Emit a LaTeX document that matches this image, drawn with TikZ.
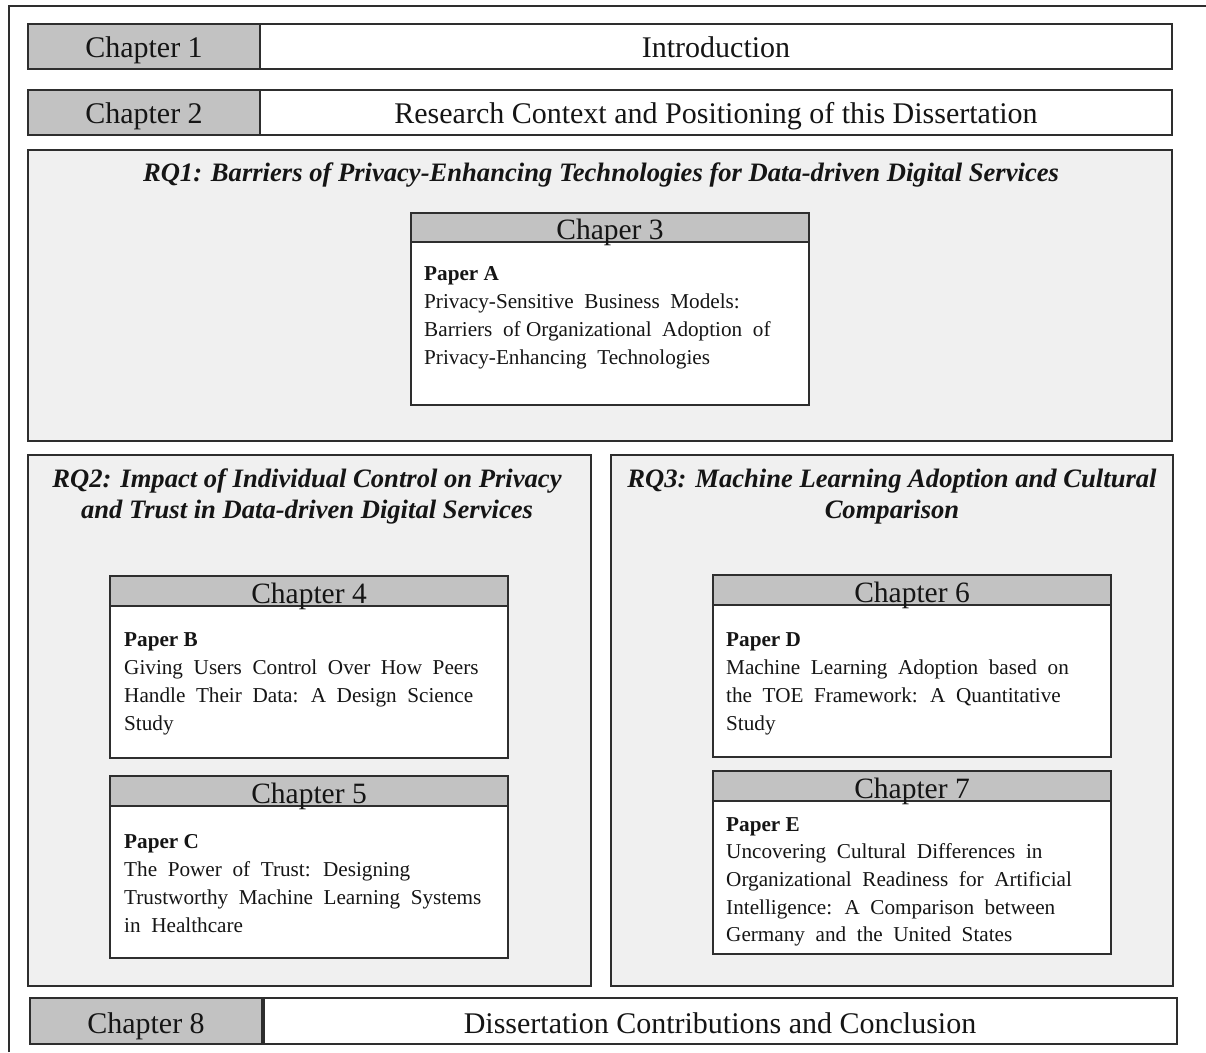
\documentclass[tikz,border=0pt]{standalone}
\usepackage{fontspec}
\setmainfont{Liberation Serif}
\definecolor{linec}{HTML}{2E2E2E}
\definecolor{headc}{HTML}{C2C2C2}
\definecolor{panelc}{HTML}{F0F0F0}
\definecolor{txtc}{HTML}{151515}
\tikzset{
  boxbase/.style={draw=linec, line width=2pt, inner sep=0pt, outer sep=0pt, anchor=north west},
  graybox/.style={boxbase, fill=headc},
  whitebox/.style={boxbase, fill=white},
  panelbox/.style={boxbase, fill=panelc},
  rowtxt/.style={text=txtc, inner sep=0pt, anchor=base, font=\fontsize{30}{36}\selectfont},
  headtxt/.style={text=txtc, inner sep=0pt, anchor=base, font=\fontsize{29.5}{34}\selectfont},
  % multi-line texts are placed by the baseline of their last line
  rqtxt/.style={text=txtc, inner sep=0pt, anchor=base, align=center,
    font=\fontsize{26.6}{31}\selectfont\bfseries\itshape},
  papertxt/.style={text=txtc, inner sep=0pt, anchor=base west, align=left,
    font=\fontsize{21.2}{27.7}\selectfont},
}
\begin{document}
\begin{tikzpicture}[x=1pt,y=-1pt]
\useasboundingbox (0,0) rectangle (1206,1052);

% outer frame (open towards the right and bottom edges)
\coordinate (fbl) at (8.5,1052);
\coordinate (ftl) at (8.5,5.5);
\coordinate (ftr) at (1206,5.5);
\draw[draw=linec, line width=2pt] (fbl) -- (ftl) -- (ftr);

% Chapter 1 and 2 rows
\node[graybox, minimum width=232, minimum height=45] (c1l) at (28,24) {};
\node[whitebox, minimum width=912, minimum height=45] (c1r) at (260,24) {};
\node[rowtxt] (c1lt) at (144,57) {Chapter 1};
\node[rowtxt] (c1rt) at (716,57) {Introduction};

\node[graybox, minimum width=232, minimum height=45] (c2l) at (28,90) {};
\node[whitebox, minimum width=912, minimum height=45] (c2r) at (260,90) {};
\node[rowtxt] (c2lt) at (144,123.5) {Chapter 2};
\node[rowtxt] (c2rt) at (716,123.5) {Research Context and Positioning of this Dissertation};

% RQ1 panel
\node[panelbox, minimum width=1144, minimum height=291] (rq1) at (28,150) {};
\node[rqtxt] (rq1t) at (601,181) {RQ1: Barriers of Privacy-Enhancing Technologies for Data-driven Digital Services};

\node[whitebox, minimum width=398, minimum height=192] (p3) at (411,213) {};
\node[graybox, minimum width=398, minimum height=29] (h3) at (411,213) {};
\node[headtxt] (h3t) at (610,239.5) {Chaper 3};
\node[papertxt] (pA) at (424,364) {\textbf{Paper A}\\
Privacy-Sensitive \ Business \ Models:\\
Barriers \ of Organizational \ Adoption \ of\\
Privacy-Enhancing \ Technologies};

% RQ2 panel
\node[panelbox, minimum width=563, minimum height=531] (rq2) at (28,455) {};
\node[rqtxt] (rq2t) at (307,518) {RQ2: Impact of Individual Control on Privacy\\and Trust in Data-driven Digital Services};

\node[whitebox, minimum width=398, minimum height=182] (p4) at (110,576) {};
\node[graybox, minimum width=398, minimum height=30] (h4) at (110,576) {};
\node[headtxt] (h4t) at (309,603) {Chapter 4};
\node[papertxt] (pB) at (124,730) {\textbf{Paper B}\\
Giving \ Users \ Control \ Over \ How \ Peers\\
Handle \ Their \ Data: \ A \ Design \ Science\\
Study};

\node[whitebox, minimum width=398, minimum height=182] (p5) at (110,776) {};
\node[graybox, minimum width=398, minimum height=30] (h5) at (110,776) {};
\node[headtxt] (h5t) at (309,803) {Chapter 5};
\node[papertxt] (pC) at (124,932) {\textbf{Paper C}\\
The \ Power \ of \ Trust: \ Designing\\
Trustworthy \ Machine \ Learning \ Systems\\
in \ Healthcare};

% RQ3 panel
\node[panelbox, minimum width=562, minimum height=531] (rq3) at (611,455) {};
\node[rqtxt] (rq3t) at (892,518) {RQ3: Machine Learning Adoption and Cultural\\Comparison};

\node[whitebox, minimum width=398, minimum height=182] (p6) at (713,575) {};
\node[graybox, minimum width=398, minimum height=30] (h6) at (713,575) {};
\node[headtxt] (h6t) at (912,602) {Chapter 6};
\node[papertxt] (pD) at (726,730) {\textbf{Paper D}\\
Machine \ Learning \ Adoption \ based \ on\\
the \ TOE \ Framework: \ A \ Quantitative\\
Study};

\node[whitebox, minimum width=398, minimum height=183] (p7) at (713,771) {};
\node[graybox, minimum width=398, minimum height=30] (h7) at (713,771) {};
\node[headtxt] (h7t) at (912,798) {Chapter 7};
\node[papertxt] (pE) at (726,941.8) {\textbf{Paper E}\\
Uncovering \ Cultural \ Differences \ in\\
Organizational \ Readiness \ for \ Artificial\\
Intelligence: \ A \ Comparison \ between\\
Germany \ and \ the \ United \ States};

% Chapter 8 row
\node[graybox, minimum width=231.5, minimum height=46] (c8l) at (30,998) {};
\node[whitebox, minimum width=913, minimum height=46] (c8r) at (264,998) {};
\node[rowtxt] (c8lt) at (146,1033) {Chapter 8};
\node[rowtxt] (c8rt) at (720,1033) {Dissertation Contributions and Conclusion};
\end{tikzpicture}
\end{document}
